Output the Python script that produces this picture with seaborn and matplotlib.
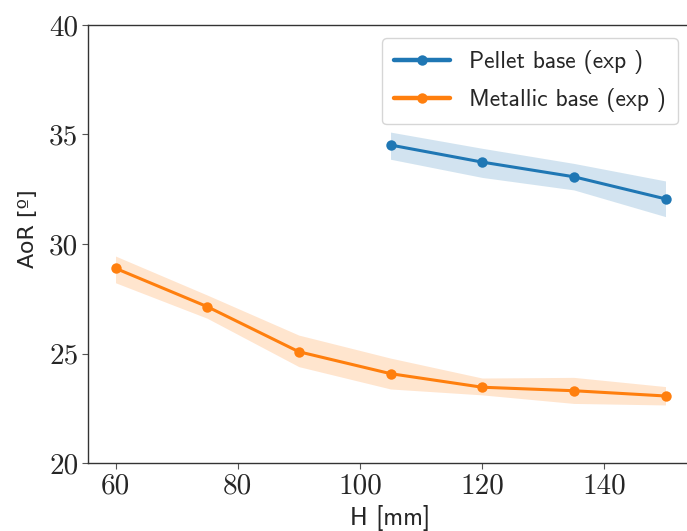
import numpy as np
import pandas as pd
import matplotlib
matplotlib.use("Agg")
import matplotlib.pyplot as plt
import seaborn as sns
from matplotlib.lines import Line2D

sns.set_style("ticks")

# Data
h_pellet = [105, 120, 135, 150]
aor_pellet = [34.52, 33.74, 33.07, 32.06]
pellet_low = [33.87, 33.04, 32.47, 31.25]
pellet_high = [35.11, 34.37, 33.68, 32.88]

h_metal = [60, 75, 90, 105, 120, 135, 150]
aor_metal = [28.89, 27.14, 25.08, 24.08, 23.46, 23.30, 23.06]
metal_low = [28.23, 26.61, 24.40, 23.38, 23.11, 22.72, 22.65]
metal_high = [29.45, 27.67, 25.84, 24.79, 23.88, 23.91, 23.49]

labels = ["Pellet base (exp )", "Metallic base (exp )"]
colors = ["#1f77b4", "#ff7f0e"]

df = pd.concat([
    pd.DataFrame({"H": h_pellet, "AoR": aor_pellet, "series": labels[0]}),
    pd.DataFrame({"H": h_metal, "AoR": aor_metal, "series": labels[1]}),
])

W, H = 687, 531
fig = plt.figure(figsize=(W / 100, H / 100), dpi=100)
ax = fig.add_axes([88 / W, (H - 463) / H, 605 / W, 438 / H])

sns.lineplot(data=df, x="H", y="AoR", hue="series", palette=colors,
             marker="o", markersize=7.5, markeredgewidth=0, linewidth=2.2,
             ax=ax, legend=False)
ax.fill_between(h_pellet, pellet_low, pellet_high, color=colors[0], alpha=0.2, linewidth=0)
ax.fill_between(h_metal, metal_low, metal_high, color=colors[1], alpha=0.2, linewidth=0)

ax.set_xlim(55.5, 154.5)
ax.set_ylim(20, 40)
ax.set_xticks([60, 80, 100, 120, 140])
ax.set_yticks([20, 25, 30, 35, 40])
for lab in ax.get_xticklabels() + ax.get_yticklabels():
    lab.set_fontfamily("cmr10")
    lab.set_fontsize(21)
ax.tick_params(axis="both", direction="out", length=4, width=0.8, color="#555555", pad=3)
for s in ax.spines.values():
    s.set_color("#333333")
    s.set_linewidth(1.0)

ax.set_xlabel("H [mm]", family=["cmss10", "DejaVu Sans"], fontsize=18, labelpad=4)
ax.set_ylabel("AoR [º]", family=["DejaVu Sans"], fontsize=16)
ax.yaxis.set_label_coords(-0.083, 0.535)

handles = [Line2D([], [], color=c, marker="o", markersize=7.5, markeredgewidth=0, linewidth=3.2)
           for c in colors]
leg = ax.legend(handles, labels, loc="upper right",
                bbox_to_anchor=(678 / W, 1 - 38 / H), bbox_transform=fig.transFigure,
                borderaxespad=0, prop={"family": "cmss10", "size": 17},
                handlelength=2.4, handletextpad=0.8, frameon=True, fancybox=True,
                framealpha=0.8, edgecolor="#cccccc", labelspacing=0.62, borderpad=0.5)

fig.savefig("out.png", dpi=100)
